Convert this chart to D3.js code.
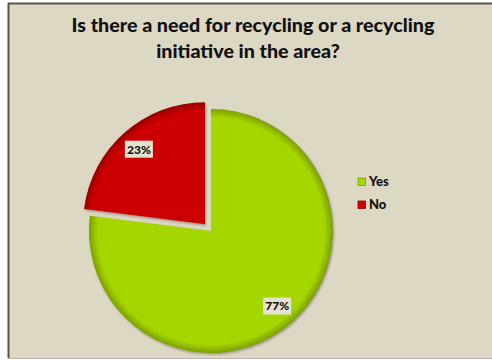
<!DOCTYPE html>
<html>
<head>
<meta charset="utf-8">
<script src="https://cdn.jsdelivr.net/npm/d3@7/dist/d3.min.js"></script>
<style>
  html, body { margin: 0; padding: 0; background: #ffffff; }
  svg { display: block; }
</style>
</head>
<body>
<svg id="chart" width="492" height="360"></svg>
<script>
// Survey answers
const categories = ["Yes", "No"];
const values = [77, 23];
const labels = ["77%", "23%"];
const colors = ["#a4d600", "#cc0606"];
const edgeColors = ["#7c9f00", "#960000"];
const titleLines = ["Is there a need for recycling or a recycling", "initiative in the area?"];

const W = 492, H = 360;
const svg = d3.select("#chart");
const font = "Lato, 'Open Sans', 'DejaVu Sans', sans-serif";

// chart area
svg.append("rect").attr("x", 0).attr("y", 0).attr("width", W).attr("height", H).attr("fill", "#ffffff");
svg.append("rect").attr("x", 8).attr("y", 3).attr("width", W - 8).attr("height", 355).attr("fill", "#ddd8c4");
svg.append("line").attr("x1", 8).attr("x2", W).attr("y1", 3.5).attr("y2", 3.5).attr("stroke", "#5b5443").attr("stroke-width", 2);
svg.append("line").attr("x1", 8.5).attr("x2", 8.5).attr("y1", 3).attr("y2", 358).attr("stroke", "#5b5443").attr("stroke-width", 2);
svg.append("line").attr("x1", 8).attr("x2", W).attr("y1", 358.5).attr("y2", 358.5).attr("stroke", "#b9b6ab").attr("stroke-width", 1);

// title, sized so the first line spans the same width as the chart heading
const titleX = [253, 248];
const title = svg.append("g").attr("font-family", font).attr("font-weight", 900).attr("fill", "#111");
const titleTexts = titleLines.map((t, i) => title.append("text").attr("x", titleX[i]).attr("y", 32 + i * 26)
  .attr("text-anchor", "middle").attr("font-size", 18).text(t));
const fsTitle = 18 * 363 / titleTexts[0].node().getComputedTextLength();
title.selectAll("text").attr("font-size", fsTitle);

// pie
const cx = 211, cy = 231, R = 122, explode = 9;
const pie = d3.pie().sort(null).value(d => d)(values);
const arc = d3.arc().innerRadius(0).outerRadius(R);
const labelArc = d3.arc().innerRadius(R * 0.82).outerRadius(R * 0.82);

const defs = svg.append("defs");
categories.forEach((c, i) => {
  const g = defs.append("radialGradient").attr("id", "grad" + i)
    .attr("gradientUnits", "userSpaceOnUse").attr("cx", 0).attr("cy", 0).attr("r", R);
  g.append("stop").attr("offset", "0%").attr("stop-color", colors[i]);
  g.append("stop").attr("offset", "93%").attr("stop-color", colors[i]);
  g.append("stop").attr("offset", "100%").attr("stop-color", edgeColors[i]);
});
const shadow = defs.append("filter").attr("id", "shadow").attr("x", "-20%").attr("y", "-20%").attr("width", "140%").attr("height", "140%");
shadow.append("feDropShadow").attr("dx", 1).attr("dy", 1.5).attr("stdDeviation", 1.2)
  .attr("flood-color", "#4a4530").attr("flood-opacity", 0.45);

const slices = svg.append("g").attr("transform", `translate(${cx},${cy})`);
pie.forEach((d, i) => {
  const mid = (d.startAngle + d.endAngle) / 2;
  const off = i === 1 ? explode : 0;
  const dx = Math.sin(mid) * off, dy = -Math.cos(mid) * off;
  const g = slices.append("g").attr("transform", `translate(${dx},${dy})`);
  g.append("path").attr("d", arc(d)).attr("fill", `url(#grad${i})`).attr("filter", "url(#shadow)");
  const [lx, ly] = labelArc.centroid(d);
  const lab = g.append("g").attr("transform", `translate(${lx},${ly})`);
  lab.append("rect").attr("x", -14).attr("y", -8.5).attr("width", 28).attr("height", 17).attr("fill", "#e6e2d0");
  lab.append("text").attr("text-anchor", "middle").attr("y", 4.3)
    .attr("font-family", font).attr("font-weight", 900).attr("font-size", 12).attr("fill", "#111")
    .text(labels[i]);
});

// legend
const legend = svg.append("g").attr("transform", "translate(358,178)");
categories.forEach((c, i) => {
  const row = legend.append("g").attr("transform", `translate(0,${i * 23})`);
  row.append("rect").attr("width", 7.5).attr("height", 7.5).attr("fill", colors[i])
    .attr("stroke", edgeColors[i]).attr("stroke-width", 0.8);
  row.append("text").attr("x", 11).attr("y", 7.8).attr("font-family", font)
    .attr("font-weight", 900).attr("font-size", 13).attr("fill", "#111").text(c);
});
</script>
</body>
</html>
